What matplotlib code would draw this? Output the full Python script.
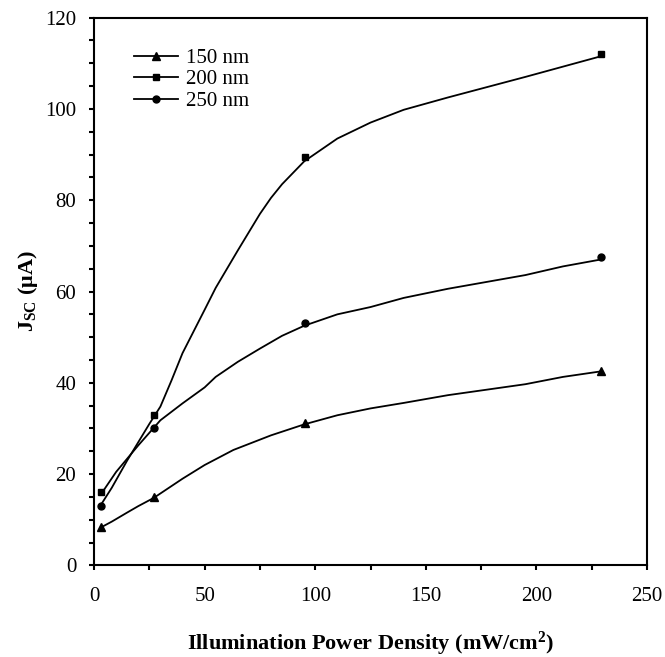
import matplotlib
matplotlib.use("Agg")

import matplotlib.pyplot as plt
from matplotlib.ticker import MultipleLocator

# measured points (markers)
power = [3, 27, 95.5, 229]
jsc_150 = [8.5, 15.0, 31.2, 42.5]
jsc_200 = [16.0, 33.0, 89.5, 112.0]
jsc_250 = [13.0, 30.0, 53.0, 67.5]

# smoothed trend lines as drawn in the figure
fit_x_150 = [3, 8, 15, 20, 27, 40, 50, 63, 80, 95, 110, 125, 140, 160, 195, 212, 229]
fit_y_150 = [8.3, 9.6, 11.6, 13.0, 14.8, 19.0, 22.0, 25.3, 28.5, 30.9, 32.9, 34.4, 35.6, 37.3, 39.7, 41.3, 42.5]

fit_x_200 = [3, 8, 15, 25, 30, 35, 40, 50, 55, 65, 75, 80, 85, 95, 110, 125, 140, 160, 195, 229]
fit_y_200 = [13.2, 17.0, 23.0, 31.0, 34.8, 40.5, 46.5, 56.0, 60.8, 69.0, 77.0, 80.5, 83.5, 88.5, 93.5, 97.0, 99.8, 102.5, 107.0, 111.5]

fit_x_250 = [3, 10, 20, 30, 40, 50, 55, 65, 75, 85, 95, 110, 125, 140, 160, 195, 212, 229]
fit_y_250 = [15.5, 20.5, 26.3, 31.8, 35.5, 39.0, 41.3, 44.6, 47.5, 50.3, 52.5, 55.0, 56.6, 58.6, 60.6, 63.6, 65.5, 67.0]


def main() -> None:
    plt.rcParams["font.family"] = "Liberation Serif"
    plt.rcParams["mathtext.fontset"] = "custom"
    plt.rcParams["mathtext.rm"] = "Liberation Serif"
    plt.rcParams["mathtext.bf"] = "Liberation Serif:bold"

    fig = plt.figure(figsize=(6.65, 6.57), dpi=100)
    ax = fig.add_axes([0.1414, 0.1393, 0.8316, 0.834])

    series = [
        ("150 nm", "^", 6, jsc_150, fit_x_150, fit_y_150),
        ("200 nm", "s", 5, jsc_200, fit_x_200, fit_y_200),
        ("250 nm", "o", 5, jsc_250, fit_x_250, fit_y_250),
    ]
    for label, marker, ms, y, fx, fy in series:
        ax.plot(fx, fy, color="black", linewidth=1.3)
        ax.plot(power, y, linestyle="none", marker=marker, color="black", markersize=ms)
        ax.plot([], [], color="black", linewidth=1.3, marker=marker, markersize=ms, label=label)

    ax.set_xlim(0, 250)
    ax.set_ylim(0, 120)
    ax.xaxis.set_major_locator(MultipleLocator(50))
    ax.xaxis.set_minor_locator(MultipleLocator(25))
    ax.yaxis.set_major_locator(MultipleLocator(20))
    ax.yaxis.set_minor_locator(MultipleLocator(5))
    ax.tick_params(which="both", direction="out", length=3.8, width=1.5, labelsize=15)
    ax.tick_params(axis="x", pad=12)
    ax.tick_params(axis="y", pad=9)
    for s in ax.spines.values():
        s.set_linewidth(1.5)

    ax.set_xlabel(r"Illumination Power Density (mW/cm$\mathbf{^2}$)",
                  fontsize=16, fontweight="bold", labelpad=17)
    ax.set_ylabel(r"J$\mathbf{_{SC}}$ ($\mathbf{\mu}$A)", fontsize=16, fontweight="bold", labelpad=4)

    ax.legend(loc="upper left", bbox_to_anchor=(0.072, 0.944), frameon=False, fontsize=15,
              handlelength=2.1, handletextpad=0.4, labelspacing=0.1, borderaxespad=0, borderpad=0)

    fig.savefig("out.png", dpi=100)


if __name__ == "__main__":
    main()
